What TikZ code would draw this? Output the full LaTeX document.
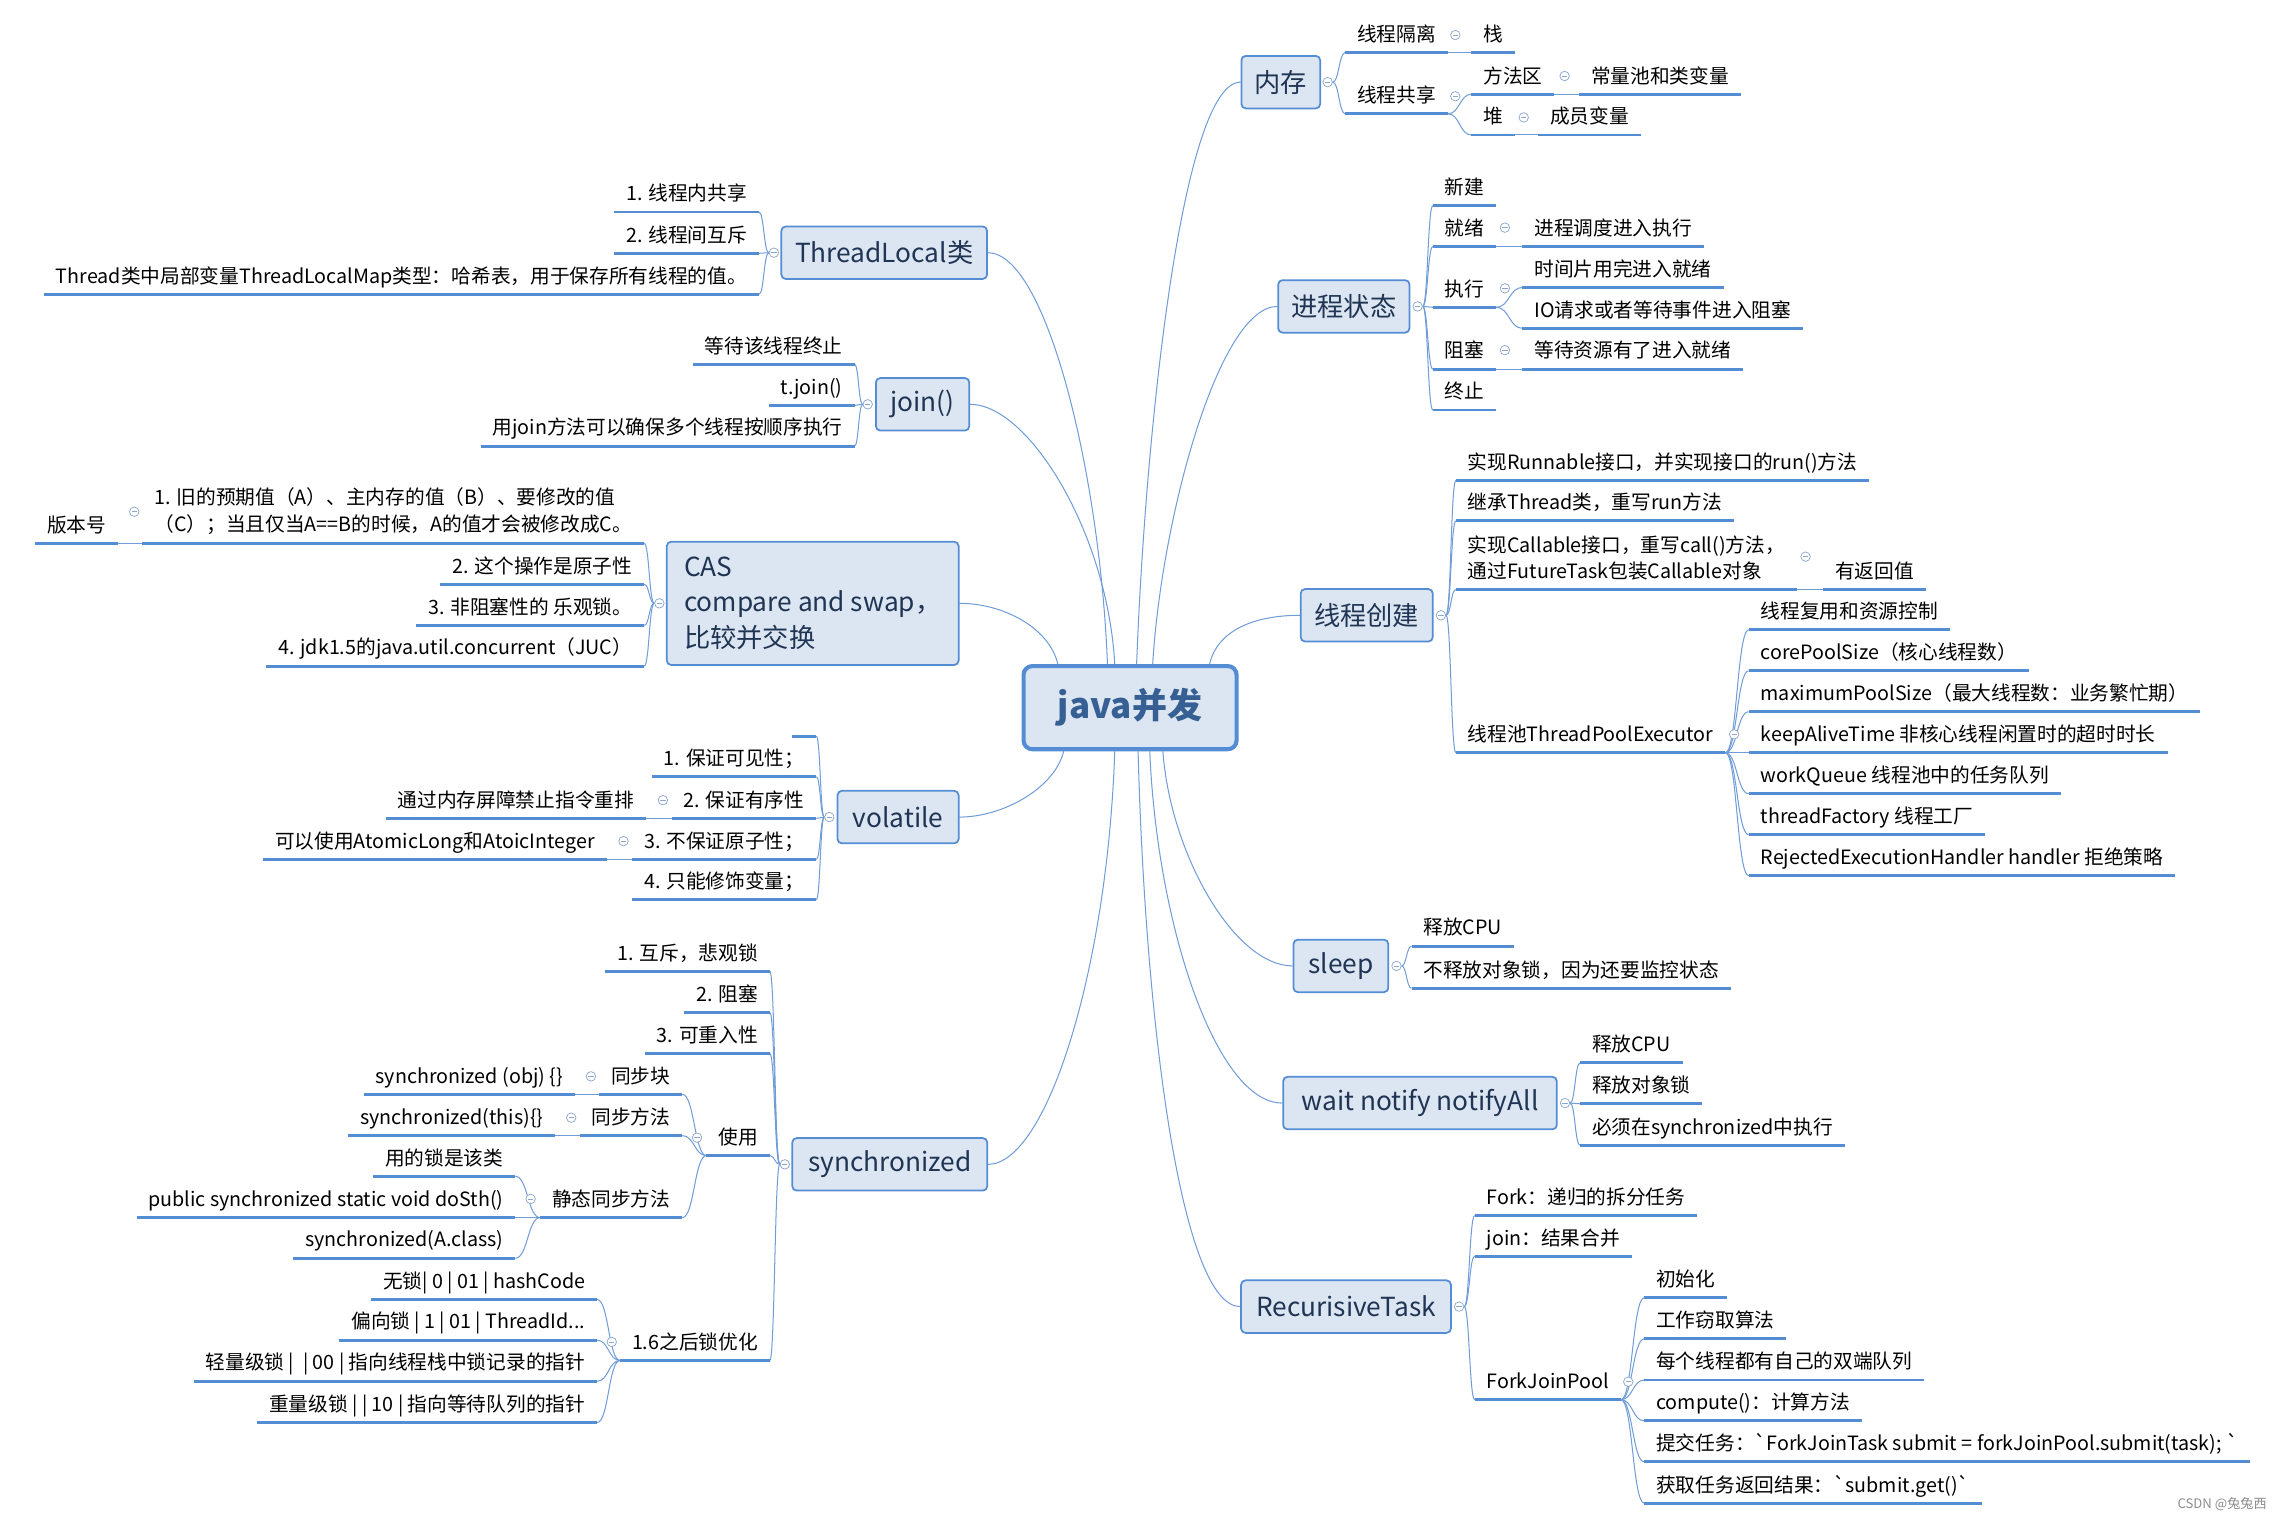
\documentclass[tikz,border=0pt]{standalone}
\usepackage{fontspec}
\setmainfont{Noto Sans CJK SC}[Ligatures=TeXOff]
\usepackage{tikz}
\usetikzlibrary{calc,positioning,backgrounds}
\definecolor{ulc}{RGB}{84,141,212}
\definecolor{connc}{RGB}{112,156,216}
\definecolor{boxfill}{RGB}{220,230,242}
\definecolor{boxline}{RGB}{84,141,212}
\definecolor{topictxt}{RGB}{32,52,84}
\definecolor{roottxt}{RGB}{54,96,148}
\definecolor{foldc}{RGB}{140,166,204}
\tikzset{
  conn/.style={draw=connc, line width=0.7pt},
  uline/.style={draw=ulc, line width=2pt},
  leaf/.style={font=\fontsize{13.5}{18.3}\selectfont, inner xsep=8pt, inner ysep=5pt, text depth=2.5pt,
    append after command={(\tikzlastnode.south west) edge[uline] (\tikzlastnode.south east)}},
  leafm/.style={font=\fontsize{13.5}{18.3}\selectfont, align=left, inner xsep=8pt, inner ysep=6pt,
    append after command={(\tikzlastnode.south west) edge[uline] (\tikzlastnode.south east)}},
  lft/.style={leaf, anchor=south east},
  rgt/.style={leaf, anchor=south west},
  lftm/.style={leafm, anchor=south east},
  rgtm/.style={leafm, anchor=south west},
  topic/.style={draw=boxline, line width=1.2pt, fill=boxfill, rounded corners=3pt, minimum height=36pt,
    inner xsep=6pt, font=\fontsize{18}{24}\selectfont, text=topictxt},
  rootbox/.style={draw=boxline, line width=2.8pt, fill=boxfill, rounded corners=6pt, minimum width=146pt,
    minimum height=57pt, font=\fontsize{24}{28}\selectfont\bfseries, text=roottxt},
  fold/.style={circle, draw=foldc, line width=0.5pt, fill=white, minimum size=6.5pt, inner sep=0pt,
    path picture={\draw[foldc, line width=0.5pt] ([xshift=-1.8pt]path picture bounding box.center) -- ([xshift=1.8pt]path picture bounding box.center);}},
}
\newcommand{\twig}[2]{\draw[conn] let \p1=(#1), \p2=(#2) in (\p1) .. controls ({(\x1+\x2)/2},\y1) and ({(\x1+\x2)/2},\y2) .. (\p2);}

\begin{document}
\begin{tikzpicture}[x=1pt,y=-1pt]
\useasboundingbox (0,0) rectangle (1564,1040.4);

\node[rootbox] (root) at (774.5,485) {java并发};

% right hand topics
\node[topic, minimum width=54pt] (mem) at (877.8,56.3) {内存};
\node[topic, minimum width=90pt] (proc) at (921,210) {进程状态};
\node[topic, minimum width=90.5pt] (make) at (936.7,421.7) {线程创建};
\node[topic, minimum width=65pt] (sleep) at (919,662) {sleep};
\node[topic, minimum width=187.6pt] (wait) at (973.2,756) {wait notify notifyAll};
\node[topic, minimum width=143.8pt] (rtask) at (922.5,895.5) {RecurisiveTask};
% left hand topics
\node[topic, minimum width=141pt] (tlocal) at (606,173.2) {ThreadLocal类};
\node[topic, minimum width=64pt] (join) at (632.3,277.1) {join()};
\node[topic, align=left, minimum width=200pt, inner xsep=10pt, minimum height=84.5pt] (cas) at (557,413.5) {CAS\\compare and swap，\\比较并交换};
\node[topic, minimum width=83pt] (vol) at (615.5,560) {volatile};
\node[topic, minimum width=133.6pt] (sync) at (609.8,798) {synchronized};

% 内存
\node[fold] (fmem) at ($(mem.east)+(4.5,0)$) {};
\node[rgt] (iso) at (922,36) {线程隔离};
\node[rgt] (share) at (922,78) {线程共享};
\node[fold] at ($(iso.south east)+(5,-12)$) {};
\node[rgt] (stack) at ($(iso.south east)+(16,0)$) {栈};
\node[fold] at ($(share.south east)+(5,-12)$) {};
\node[rgt] (marea) at ($(share.south east)+(16,-13.4)$) {方法区};
\node[rgt] (heap) at ($(share.south east)+(16,14.5)$) {堆};
\node[fold] at ($(marea.south east)+(7,-12.5)$) {};
\node[rgt] (cpool) at ($(marea.south east)+(17,0)$) {常量池和类变量};
\node[fold] at ($(heap.south east)+(6,-12)$) {};
\node[rgt] (member) at ($(heap.south east)+(16,0)$) {成员变量};

% 进程状态
\node[fold] (fproc) at ($(proc.east)+(5,0)$) {};
\node[rgt] (pnew) at (982,141) {新建};
\node[rgt] (pready) at (982,169) {就绪};
\node[rgt] (prun) at (982,210.6) {执行};
\node[rgt] (pblock) at (982,253) {阻塞};
\node[rgt] (pend) at (982,281) {终止};
\node[fold] at ($(pready.south east)+(6,-13)$) {};
\node[rgt] (pready1) at ($(pready.south east)+(18,0)$) {进程调度进入执行};
\node[fold] at ($(prun.south east)+(6,-13)$) {};
\node[rgt] (prun1) at ($(prun.south east)+(18,-13.6)$) {时间片用完进入就绪};
\node[rgt] (prun2) at ($(prun.south east)+(18,14.4)$) {IO请求或者等待事件进入阻塞};
\node[fold] at ($(pblock.south east)+(6,-13)$) {};
\node[rgt] (pblock1) at ($(pblock.south east)+(18,0)$) {等待资源有了进入就绪};

% 线程创建
\node[fold] (fmake) at ($(make.east)+(5,0)$) {};
\node[rgt] (mk1) at (997.8,329.2) {实现Runnable接口，并实现接口的run()方法};
\node[rgt] (mk2) at (997.8,357) {继承Thread类，重写run方法};
\node[rgtm] (mk3) at (997.8,404) {实现Callable接口，重写call()方法，\\通过FutureTask包装Callable对象};
\node[fold] at ($(mk3.south east)+(6,-22.5)$) {};
\node[rgt] (mkret) at ($(mk3.south east)+(18,0)$) {有返回值};
\node[rgt] (mk4) at (997.8,515.9) {线程池ThreadPoolExecutor};
\node[fold] at ($(mk4.south east)+(6,-12.6)$) {};
\node[rgt] (pool1) at ($(mk4.south east)+(16,-84.3)$) {线程复用和资源控制};
\node[rgt] (pool2) at ($(mk4.south east)+(16,-56.2)$) {corePoolSize（核心线程数）};
\node[rgt] (pool3) at ($(mk4.south east)+(16,-28.1)$) {maximumPoolSize（最大线程数：业务繁忙期）};
\node[rgt] (pool4) at ($(mk4.south east)+(16,0)$) {keepAliveTime 非核心线程闲置时的超时时长};
\node[rgt] (pool5) at ($(mk4.south east)+(16,28.1)$) {workQueue 线程池中的任务队列};
\node[rgt] (pool6) at ($(mk4.south east)+(16,56.2)$) {threadFactory 线程工厂};
\node[rgt] (pool7) at ($(mk4.south east)+(16,84.3)$) {RejectedExecutionHandler handler 拒绝策略};

% sleep, wait
\node[fold] (fsleep) at ($(sleep.east)+(5,0)$) {};
\node[rgt] (sl1) at (967.4,648.4) {释放CPU};
\node[rgt] (sl2) at (967.4,677.3) {不释放对象锁，因为还要监控状态};
\node[fold] (fwait) at ($(wait.east)+(5,0)$) {};
\node[rgt] (wt1) at (1082.9,728.5) {释放CPU};
\node[rgt] (wt2) at (1082.9,756.5) {释放对象锁};
\node[rgt] (wt3) at (1082.9,785) {必须在synchronized中执行};

% RecurisiveTask
\node[fold] (frtask) at ($(rtask.east)+(5,0)$) {};
\node[rgt] (rt1) at (1010.7,833.1) {Fork：递归的拆分任务};
\node[rgt] (rt2) at (1010.7,861) {join：结果合并};
\node[rgt] (rt3) at (1010.7,959.3) {ForkJoinPool};
\node[fold] at ($(rt3.south east)+(5,-12.3)$) {};
\node[rgt] (fj1) at ($(rt3.south east)+(16,-69.9)$) {初始化};
\node[rgt] (fj2) at ($(rt3.south east)+(16,-41.7)$) {工作窃取算法};
\node[rgt] (fj3) at ($(rt3.south east)+(16,-13.5)$) {每个线程都有自己的双端队列};
\node[rgt] (fj4) at ($(rt3.south east)+(16,14.5)$) {compute()：计算方法};
\node[rgt] (fj5) at ($(rt3.south east)+(16,42.6)$) {提交任务：`ForkJoinTask submit = forkJoinPool.submit(task); `};
\node[rgt] (fj6) at ($(rt3.south east)+(16,71)$) {获取任务返回结果：`submit.get()`};

% ThreadLocal, join
\node[fold] (ftlocal) at ($(tlocal.west)+(-4.5,0)$) {};
\node[lft] (tl1) at (520.2,145.3) {1. 线程内共享};
\node[lft] (tl2) at (520.2,173.6) {2. 线程间互斥};
\node[lft] (tl3) at (520.2,201.7) {Thread类中局部变量ThreadLocalMap类型：哈希表，用于保存所有线程的值。};
\node[fold] (fjoin) at ($(join.west)+(-5,0)$) {};
\node[lft] (jn1) at (585.7,249.7) {等待该线程终止};
\node[lft] (jn2) at (585.7,277.8) {t.join()};
\node[lft] (jn3) at (585.7,305.7) {用join方法可以确保多个线程按顺序执行};

% CAS
\node[fold] (fcas) at ($(cas.west)+(-4.5,0)$) {};
\node[lftm] (cs1) at (441.5,372.4) {1. 旧的预期值（A）、主内存的值（B）、要修改的值\\（C）；当且仅当A==B的时候，A的值才会被修改成C。};
\node[fold] at ($(cs1.south west)+(-5.6,-21.7)$) {};
\node[lft] (ver) at ($(cs1.south west)+(-16.6,0)$) {版本号};
\node[lft] (cs2) at (441.5,400.5) {2. 这个操作是原子性};
\node[lft] (cs3) at (441.5,428.6) {3. 非阻塞性的 乐观锁。};
\node[lft] (cs4) at (441.5,456.5) {4. jdk1.5的java.util.concurrent（JUC）};

% volatile
\node[fold] (fvol) at ($(vol.west)+(-5,0)$) {};
\node[lft] (vo0) at (559.5,504.5) {};
\node[lft] (vo1) at (559.5,532.3) {1. 保证可见性；};
\node[lft] (vo2) at (559.5,560.9) {2. 保证有序性};
\node[lft] (vo3) at (559.5,589) {3. 不保证原子性；};
\node[lft] (vo4) at (559.5,616.6) {4. 只能修饰变量；};
\node[fold] at ($(vo2.south west)+(-6,-12.5)$) {};
\node[lft] (vo2a) at ($(vo2.south west)+(-17.5,0)$) {通过内存屏障禁止指令重排};
\node[fold] at ($(vo3.south west)+(-6,-12.5)$) {};
\node[lft] (vo3a) at ($(vo3.south west)+(-17.5,0)$) {可以使用AtomicLong和AtoicInteger};

% synchronized
\node[fold] (fsync) at ($(sync.west)+(-4.5,0)$) {};
\node[lft] (sy1) at (527.6,665.7) {1. 互斥，悲观锁};
\node[lft] (sy2) at (527.6,693.8) {2. 阻塞};
\node[lft] (sy3) at (527.6,721.9) {3. 可重入性};
\node[lft] (use) at (527.6,792) {使用};
\node[lft] (opt) at (527.6,932.4) {1.6之后锁优化};
\node[fold] at ($(use.south west)+(-6.5,-12.3)$) {};
\node[lft] (blk) at ($(use.south west)+(-16.6,-42)$) {同步块};
\node[lft] (mth) at ($(use.south west)+(-16.6,-13.7)$) {同步方法};
\node[lft] (smth) at ($(use.south west)+(-16.6,42.5)$) {静态同步方法};
\node[fold] at ($(blk.south west)+(-5.7,-12.3)$) {};
\node[lft] (blk1) at ($(blk.south west)+(-16.6,0)$) {synchronized (obj) \{\}};
\node[fold] at ($(mth.south west)+(-5.7,-12.3)$) {};
\node[lft] (mth1) at ($(mth.south west)+(-16.6,0)$) {synchronized(this)\{\}};
\node[fold] at ($(smth.south west)+(-6.5,-12.8)$) {};
\node[lft] (sm1) at ($(smth.south west)+(-17,-28.3)$) {用的锁是该类};
\node[lft] (sm2) at ($(smth.south west)+(-17,0)$) {public synchronized static void doSth()};
\node[lft] (sm3) at ($(smth.south west)+(-17,27.8)$) {synchronized(A.class)};
\node[fold] at ($(opt.south west)+(-5.7,-12.7)$) {};
\node[lft] (op1) at ($(opt.south west)+(-15.7,-41.8)$) {无锁| 0 | 01 | hashCode};
\node[lft] (op2) at ($(opt.south west)+(-15.7,-13.9)$) {偏向锁 | 1 | 01 | ThreadId...};
\node[lft] (op3) at ($(opt.south west)+(-15.7,14.2)$) {轻量级锁 | \ | 00 | 指向线程栈中锁记录的指针};
\node[lft] (op4) at ($(opt.south west)+(-15.7,42.5)$) {重量级锁 | | 10 | 指向等待队列的指针};

\node[font=\fontsize{9}{10}\selectfont, text=black!45, anchor=east] (mark) at (1557,1031) {CSDN @兔兔西};

\begin{scope}[on background layer]
\draw[conn] ($(root.north)+(4.5,0)$) .. controls +(6,-160) and +(-40,0) .. (mem.west);
\draw[conn] ($(root.north)+(15.5,0)$) .. controls +(6,-100) and +(-40,0) .. (proc.west);
\draw[conn] ($(root.north)+(54.5,0)$) .. controls +(6,-25) and +(-28,0) .. (make.west);
\draw[conn] ($(root.south)+(22.5,0)$) .. controls +(5,70) and +(-40,0) .. (sleep.west);
\draw[conn] ($(root.south)+(13.5,0)$) .. controls +(5,120) and +(-45,0) .. (wait.west);
\draw[conn] ($(root.south)+(5.5,0)$) .. controls +(5,190) and +(-40,0) .. (rtask.west);
\draw[conn] ($(root.north)+(-15.5,0)$) .. controls +(-5,-130) and +(40,0) .. (tlocal.east);
\draw[conn] ($(root.north)+(-10.5,0)$) .. controls +(-5,-90) and +(40,0) .. (join.east);
\draw[conn] ($(root.north)+(-49.5,0)$) .. controls +(-6,-25) and +(30,0) .. (cas.east);
\draw[conn] ($(root.south)+(-45.5,0)$) .. controls +(-6,25) and +(30,0) .. (vol.east);
\draw[conn] ($(root.south)+(-10.5,0)$) .. controls +(-5,150) and +(40,0) .. (sync.east);
% right branches
\twig{fmem.east}{iso.south west} \twig{fmem.east}{share.south west}
\twig{iso.south east}{stack.south west}
\twig{share.south east}{marea.south west} \twig{share.south east}{heap.south west}
\twig{marea.south east}{cpool.south west} \twig{heap.south east}{member.south west}
\twig{fproc.east}{pnew.south west} \twig{fproc.east}{pready.south west} \twig{fproc.east}{prun.south west}
\twig{fproc.east}{pblock.south west} \twig{fproc.east}{pend.south west}
\twig{pready.south east}{pready1.south west}
\twig{prun.south east}{prun1.south west} \twig{prun.south east}{prun2.south west}
\twig{pblock.south east}{pblock1.south west}
\twig{fmake.east}{mk1.south west} \twig{fmake.east}{mk2.south west}
\twig{fmake.east}{mk3.south west} \twig{fmake.east}{mk4.south west}
\twig{mk3.south east}{mkret.south west}
\twig{mk4.south east}{pool1.south west} \twig{mk4.south east}{pool2.south west}
\twig{mk4.south east}{pool3.south west} \twig{mk4.south east}{pool4.south west}
\twig{mk4.south east}{pool5.south west} \twig{mk4.south east}{pool6.south west}
\twig{mk4.south east}{pool7.south west}
\twig{fsleep.east}{sl1.south west} \twig{fsleep.east}{sl2.south west}
\twig{fwait.east}{wt1.south west} \twig{fwait.east}{wt2.south west} \twig{fwait.east}{wt3.south west}
\twig{frtask.east}{rt1.south west} \twig{frtask.east}{rt2.south west} \twig{frtask.east}{rt3.south west}
\twig{rt3.south east}{fj1.south west} \twig{rt3.south east}{fj2.south west}
\twig{rt3.south east}{fj3.south west} \twig{rt3.south east}{fj4.south west}
\twig{rt3.south east}{fj5.south west} \twig{rt3.south east}{fj6.south west}
% left branches
\twig{ftlocal.west}{tl1.south east} \twig{ftlocal.west}{tl2.south east} \twig{ftlocal.west}{tl3.south east}
\twig{fjoin.west}{jn1.south east} \twig{fjoin.west}{jn2.south east} \twig{fjoin.west}{jn3.south east}
\twig{fcas.west}{cs1.south east} \twig{fcas.west}{cs2.south east}
\twig{fcas.west}{cs3.south east} \twig{fcas.west}{cs4.south east}
\twig{cs1.south west}{ver.south east}
\twig{fvol.west}{vo0.south east} \twig{fvol.west}{vo1.south east} \twig{fvol.west}{vo2.south east}
\twig{fvol.west}{vo3.south east} \twig{fvol.west}{vo4.south east}
\twig{vo2.south west}{vo2a.south east} \twig{vo3.south west}{vo3a.south east}
\twig{fsync.west}{sy1.south east} \twig{fsync.west}{sy2.south east} \twig{fsync.west}{sy3.south east}
\twig{fsync.west}{use.south east} \twig{fsync.west}{opt.south east}
\twig{use.south west}{blk.south east} \twig{use.south west}{mth.south east} \twig{use.south west}{smth.south east}
\twig{blk.south west}{blk1.south east} \twig{mth.south west}{mth1.south east}
\twig{smth.south west}{sm1.south east} \twig{smth.south west}{sm2.south east} \twig{smth.south west}{sm3.south east}
\twig{opt.south west}{op1.south east} \twig{opt.south west}{op2.south east}
\twig{opt.south west}{op3.south east} \twig{opt.south west}{op4.south east}
\end{scope}
\end{tikzpicture}
\end{document}
